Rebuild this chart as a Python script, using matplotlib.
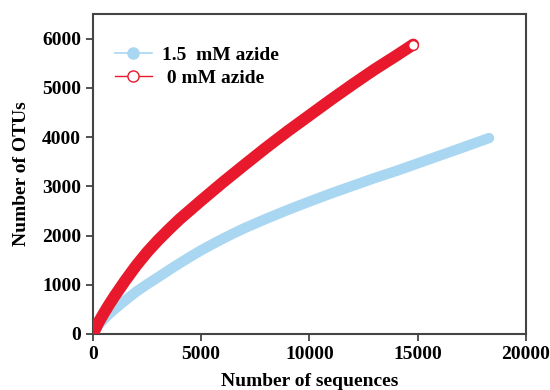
import numpy as np
import matplotlib
matplotlib.use("Agg")
import matplotlib.pyplot as plt
from matplotlib.lines import Line2D

# rarefaction data
seq_azide = [0, 250, 500, 750, 1000, 1500, 2000, 2500, 3000, 3500, 4000, 4500,
             5000, 5500, 6000, 6500, 7000, 8000, 9000, 10000, 11000, 12000,
             13000, 14000, 15000, 16000, 17000, 18300]
otu_azide = [0, 180, 300, 410, 505, 685, 860, 1010, 1150, 1295, 1435, 1570,
             1700, 1820, 1935, 2045, 2150, 2340, 2520, 2690, 2855, 3010,
             3165, 3310, 3465, 3620, 3775, 3980]

seq_ctrl = [0, 250, 500, 750, 1000, 1500, 2000, 2500, 3000, 3500, 4000, 4500,
            5000, 6000, 7000, 8000, 9000, 10000, 11000, 12000, 13000, 14000, 14800]
otu_ctrl = [0, 230, 420, 600, 770, 1090, 1390, 1660, 1900, 2120, 2330, 2520,
            2710, 3080, 3435, 3785, 4120, 4440, 4760, 5070, 5370, 5650, 5880]

labels = ["1.5  mM azide", " 0 mM azide"]
x_ticks = [0, 5000, 10000, 15000, 20000]
y_ticks = [0, 1000, 2000, 3000, 4000, 5000, 6000]

blue = "#a9d7f2"
red = "#e8192c"

plt.rcParams["font.family"] = ["Liberation Serif", "DejaVu Serif"]
plt.rcParams["font.weight"] = "bold"

fig = plt.figure(figsize=(5.5, 3.9), dpi=100)
ax = fig.add_axes([0.169, 0.1436, 0.787, 0.8205])

ax.plot(seq_azide, otu_azide, color=blue, lw=7.5, solid_capstyle="round",
        solid_joinstyle="round", zorder=2)
ax.plot(seq_ctrl, otu_ctrl, color=red, lw=8.5, solid_capstyle="round",
        solid_joinstyle="round", zorder=3)
ax.plot(seq_ctrl[-1], otu_ctrl[-1], "o", ms=7, mfc="white", mec=red, mew=1.0, zorder=4)

ax.set_xlim(0, 20000)
ax.set_ylim(0, 6500)
ax.set_xticks(x_ticks)
ax.set_yticks(y_ticks)
ax.tick_params(direction="out", length=5, width=1.2, labelsize=14,
               top=False, right=False, colors="#333333", labelcolor="black")
for lab in ax.get_xticklabels() + ax.get_yticklabels():
    lab.set_fontweight("bold")
for sp in ax.spines.values():
    sp.set_linewidth(1.5)
    sp.set_color("#444444")

ax.set_xlabel("Number of sequences", fontsize=14, fontweight="bold", labelpad=7)
ax.set_ylabel("Number of OTUs", fontsize=14, fontweight="bold", labelpad=9)

handles = [
    Line2D([], [], color=blue, lw=1.2, marker="o", ms=8, mfc=blue, mec=blue),
    Line2D([], [], color=red, lw=1.0, marker="o", ms=8, mfc="white", mec=red),
]
leg = ax.legend(handles, labels, loc="upper left", bbox_to_anchor=(0.01, 0.955),
                frameon=False, fontsize=14, handlelength=1.9, labelspacing=0.3,
                handletextpad=0.55)
for t in leg.get_texts():
    t.set_fontweight("bold")

fig.savefig("out.png", dpi=100)
